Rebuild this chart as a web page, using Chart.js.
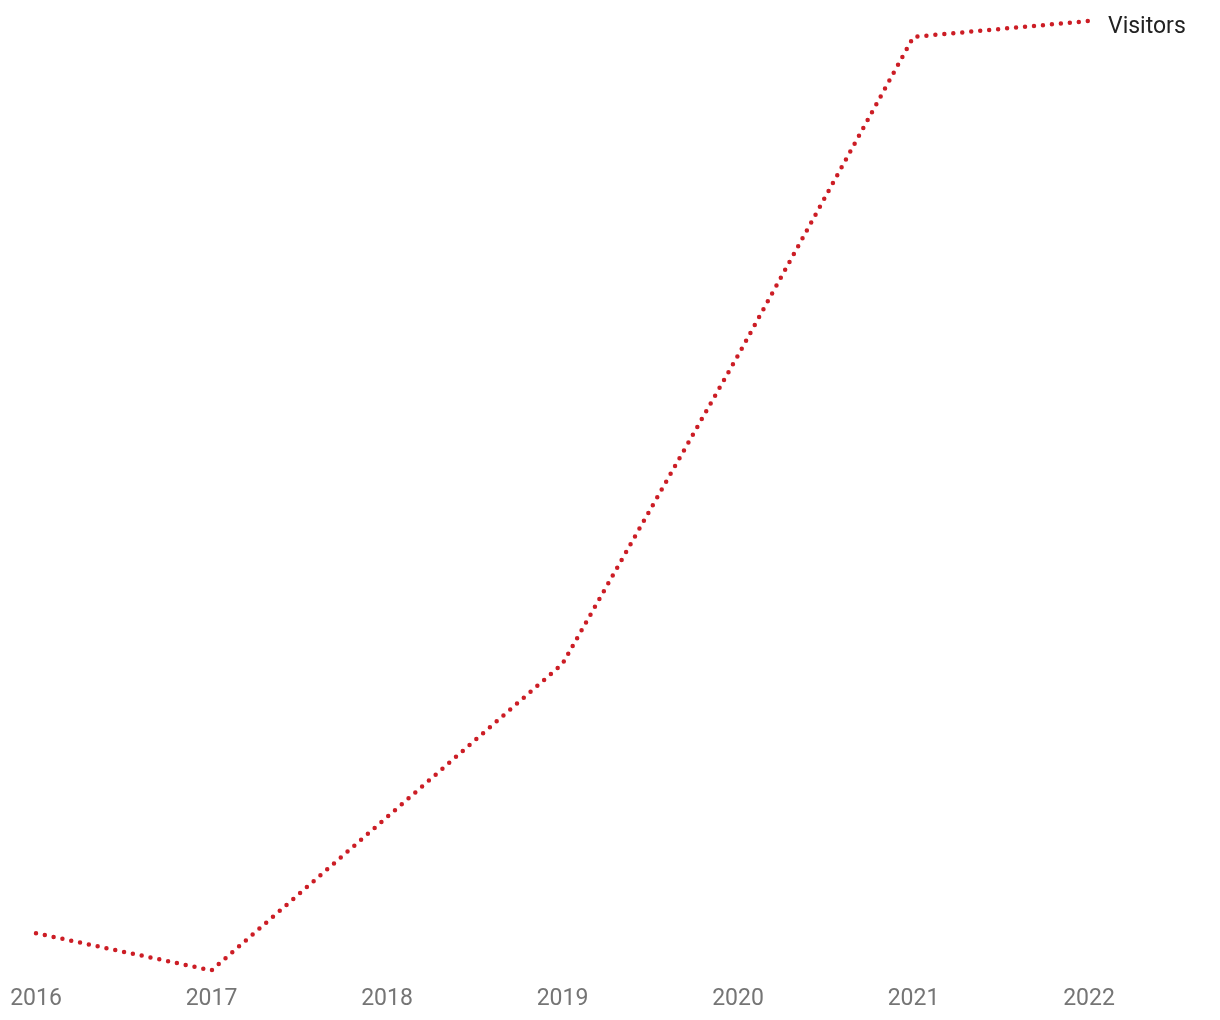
<!DOCTYPE html>
<html>
<head>
<meta charset="utf-8">
<script src="https://cdn.jsdelivr.net/npm/chart.js@4"></script>
<style>
  html, body { margin: 0; padding: 0; background: #fff; }
  canvas { display: block; }
</style>
</head>
<body>
<canvas id="myChart" width="1220" height="1020"></canvas>
<script>
const years = ["2016", "2017", "2018", "2019", "2020", "2021", "2022"];
const visitors = [12.0, 8.0, 24.5, 41.0, 74.2, 108.5, 110.2];
const seriesName = "Visitors";

const lineColor = "#cc1d25";

// writes the series name just right of the last point
const endLabel = {
  id: "endLabel",
  afterDatasetsDraw(chart) {
    const meta = chart.getDatasetMeta(0);
    const last = meta.data[meta.data.length - 1];
    const ctx = chart.ctx;
    ctx.save();
    ctx.font = "23px Roboto";
    ctx.fillStyle = "#222222";
    ctx.textBaseline = "middle";
    ctx.textAlign = "left";
    ctx.fillText(seriesName, last.x + 19, last.y + 6);
    ctx.restore();
  },
};

const chart = new Chart("myChart", {
  type: "line",
  data: {
    labels: years,
    datasets: [
      {
        label: seriesName,
        data: visitors,
        borderColor: lineColor,
        borderWidth: 4.5,
        borderDash: [0, 9],
        borderCapStyle: "round",
        pointRadius: 0,
        tension: 0,
        clip: false,
      },
    ],
  },
  options: {
    responsive: false,
    animation: false,
    layout: {
      padding: { left: 36, right: 131, top: 21, bottom: -8 },
    },
    plugins: {
      legend: { display: false },
      tooltip: { enabled: false },
    },
    scales: {
      x: {
        offset: false,
        grid: { display: false, drawTicks: false },
        border: { display: false },
        ticks: {
          color: "#757575",
          padding: 15,
          maxRotation: 0,
          font: { family: "Roboto", size: 23 },
        },
        afterFit(scale) {
          // let layout padding alone decide the side margins
          scale.paddingLeft = 0;
          scale.paddingRight = 0;
        },
      },
      y: {
        display: false,
        min: 8,
        max: 110.2,
      },
    },
  },
  plugins: [endLabel],
});
</script>
</body>
</html>
